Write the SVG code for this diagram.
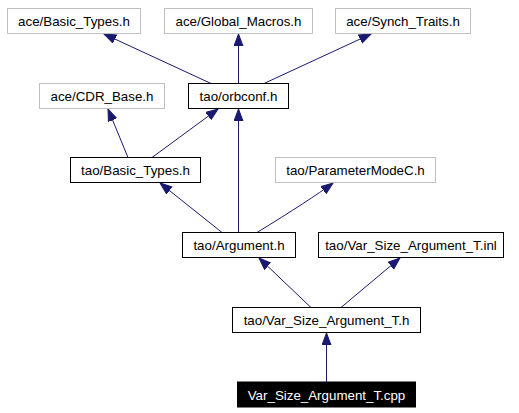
<svg xmlns="http://www.w3.org/2000/svg" width="519" height="413" viewBox="0 0 519 413">
<defs>
<style>
.n rect{fill:#fff;stroke:#000;stroke-width:1}
.g rect{fill:#fff;stroke:#bfbfbf;stroke-width:1}
.b rect{fill:#000;stroke:#000;stroke-width:1}
text{font-family:"Liberation Sans",Arial,sans-serif;font-size:13.33px;text-anchor:middle;fill:#000}
.b text{fill:#fff}
.e path{fill:none;stroke:#191970;stroke-width:1;marker-end:url(#ah)}
</style>
<marker id="ah" markerUnits="userSpaceOnUse" markerWidth="14" markerHeight="11" refX="12" refY="5" orient="auto">
<path d="M0,0.5 L12,5 L0,9.5 z" fill="#191970" stroke="#191970" stroke-width="1"/>
</marker>
</defs>
<rect width="519" height="413" fill="#fff"/>
<g id="edges" class="e">
<path d="M211,83.5 L104,34"/>
<path d="M238.5,83.5 L238.5,34"/>
<path d="M264,83.5 L371,34"/>
<path d="M128,157.5 L108,109"/>
<path d="M152,157.5 L218,109"/>
<path d="M238.5,232.5 L238.5,109"/>
<path d="M222,232.5 L160,183"/>
<path d="M257,232.5 Q310,200 333,183"/>
<path d="M311,307.5 L259,258"/>
<path d="M341,307.5 L400,258"/>
<path d="M326.5,382 L326.5,333"/>
</g>
<g id="ace_basic_types" class="g"><rect x="7.5" y="8.5" width="133" height="25"/><text x="74" y="26">ace/Basic_Types.h</text></g>
<g id="ace_global_macros" class="g"><rect x="164.5" y="8.5" width="148" height="25"/><text x="238.5" y="26">ace/Global_Macros.h</text></g>
<g id="ace_synch_traits" class="g"><rect x="335.5" y="8.5" width="135" height="25"/><text x="403" y="26">ace/Synch_Traits.h</text></g>
<g id="ace_cdr_base" class="g"><rect x="39.5" y="83.5" width="125" height="25"/><text x="102" y="101">ace/CDR_Base.h</text></g>
<g id="tao_orbconf" class="n"><rect x="188.5" y="83.5" width="100" height="25"/><text x="238.5" y="101">tao/orbconf.h</text></g>
<g id="tao_basic_types" class="n"><rect x="70.5" y="157.5" width="130" height="25"/><text x="135.5" y="175">tao/Basic_Types.h</text></g>
<g id="tao_parametermodec" class="g"><rect x="275.5" y="157.5" width="160" height="25"/><text x="355.5" y="175">tao/ParameterModeC.h</text></g>
<g id="tao_argument" class="n"><rect x="182.5" y="232.5" width="113" height="25"/><text x="239" y="250">tao/Argument.h</text></g>
<g id="tao_var_size_inl" class="n"><rect x="318.5" y="232.5" width="185" height="25"/><text x="411" y="250">tao/Var_Size_Argument_T.inl</text></g>
<g id="tao_var_size_h" class="n"><rect x="232.5" y="307.5" width="188" height="25"/><text x="326.5" y="325">tao/Var_Size_Argument_T.h</text></g>
<g id="var_size_cpp" class="b"><rect x="237.5" y="382" width="178" height="25"/><text x="326.5" y="399.5">Var_Size_Argument_T.cpp</text></g>
</svg>
